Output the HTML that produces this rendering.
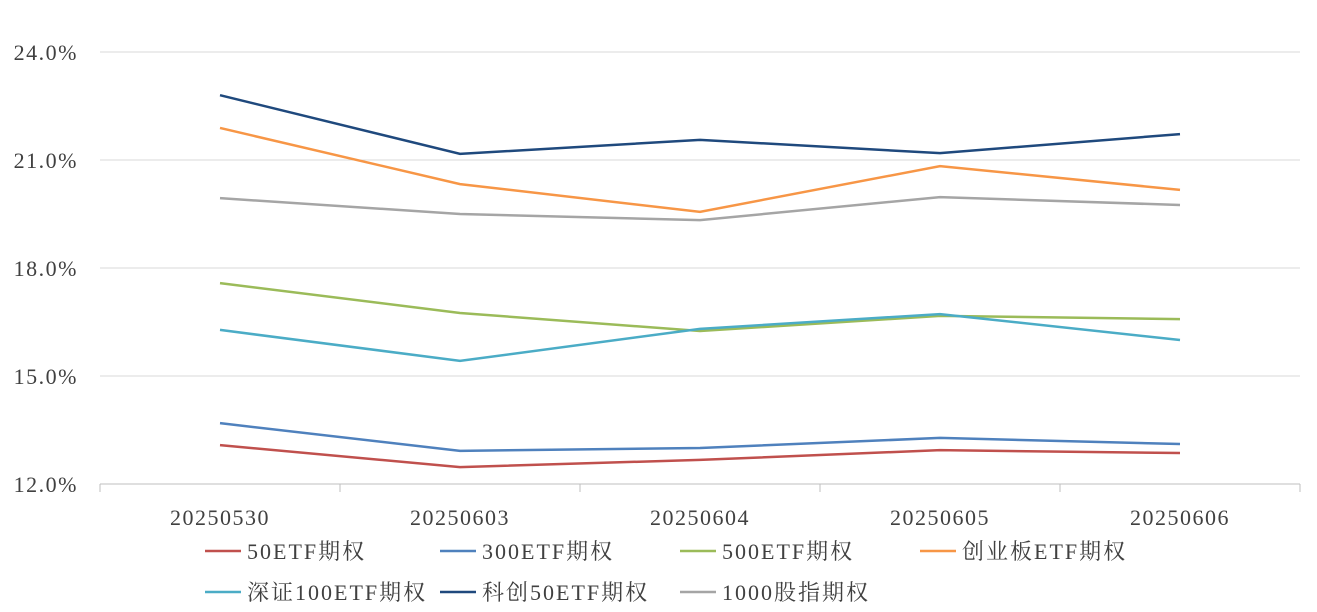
<!DOCTYPE html>
<html><head><meta charset="utf-8">
<style>
body{margin:0;background:#fff;}
svg{display:block;font-family:"Liberation Serif","Noto Serif CJK SC",serif;}
</style></head>
<body>
<svg id="chart" width="1317" height="612" viewBox="0 0 1317 612">
<g id="grid"></g>
<g id="axes"></g>
<g id="series"></g>
<g id="legend"></g>
</svg>
<script>
const categories=["20250530","20250603","20250604","20250605","20250606"];
const yTicks=[12,15,18,21,24];
const seriesNames=["50ETF期权","300ETF期权","500ETF期权","创业板ETF期权","深证100ETF期权","科创50ETF期权","1000股指期权"];
const s50=[13.08,12.47,12.67,12.94,12.86];
const s300=[13.69,12.92,13.0,13.28,13.11];
const s500=[17.58,16.75,16.25,16.67,16.58];
const sCyb=[21.89,20.33,19.56,20.83,20.17];
const sSz100=[16.28,15.42,16.31,16.72,16.0];
const sKc50=[22.8,21.17,21.56,21.19,21.72];
const s1000=[19.94,19.5,19.33,19.97,19.75];
const seriesValues=[s50,s300,s500,sCyb,sSz100,sKc50,s1000];
const colors=["#c0504d","#4f81bd","#9bbb59","#f79646","#4bacc6","#1f497d","#a5a5a5"];
const NS="http://www.w3.org/2000/svg";
const x0=100,x1=1300,yTop=52,yBot=484,vMin=12,vMax=24;
const band=(x1-x0)/categories.length;
const xs=i=>x0+band*(i+0.5);
const ys=v=>yBot-(v-vMin)/(vMax-vMin)*(yBot-yTop);
function mk(tag,attrs,parent,text){const e=document.createElementNS(NS,tag);for(const k in attrs)e.setAttribute(k,attrs[k]);if(text!==undefined)e.textContent=text;parent.appendChild(e);return e;}
const grid=document.getElementById('grid'),axes=document.getElementById('axes'),ser=document.getElementById('series'),leg=document.getElementById('legend');
yTicks.forEach(t=>{
  const l=mk('line',{x1:x0,x2:x1,y1:ys(t),y2:ys(t),stroke:t===vMin?'#bfbfbf':'#d9d9d9','stroke-width':1},grid);
  
  
  const tx=mk('text',{x:78,y:ys(t)+8,'text-anchor':'end','font-size':22,'letter-spacing':1.5,fill:'#404040'},axes,t.toFixed(1)+'%');
  
  
});
for(let i=0;i<=categories.length;i++){
  const tk=mk('line',{x1:x0+band*i,x2:x0+band*i,y1:yBot,y2:yBot+8,stroke:'#bfbfbf'},axes);
  
  
}
categories.forEach((c,i)=>{
  const tx=mk('text',{x:xs(i),y:525,'text-anchor':'middle','font-size':22,'letter-spacing':1.5,fill:'#404040'},axes,c);
  
  
});
seriesValues.forEach((vals,si)=>{
  const p=mk('polyline',{points:vals.map((v,i)=>xs(i)+','+ys(v)).join(' '),fill:'none',stroke:colors[si],'stroke-width':2.5},ser);
  
  
});
const legPos=[[205,551],[440,551],[680,551],[920,551],[205,592],[440,592],[680,592]];
seriesNames.forEach((n,i)=>{
  const [lx,ly]=legPos[i];
  const g=mk('g',{},leg);
  
  
  mk('line',{x1:lx,x2:lx+36,y1:ly,y2:ly,stroke:colors[i],'stroke-width':2.5},g);
  mk('text',{x:lx+42,y:ly+8,'font-size':22,'letter-spacing':2,fill:'#404040'},g,n);
});
</script>
</body></html>
